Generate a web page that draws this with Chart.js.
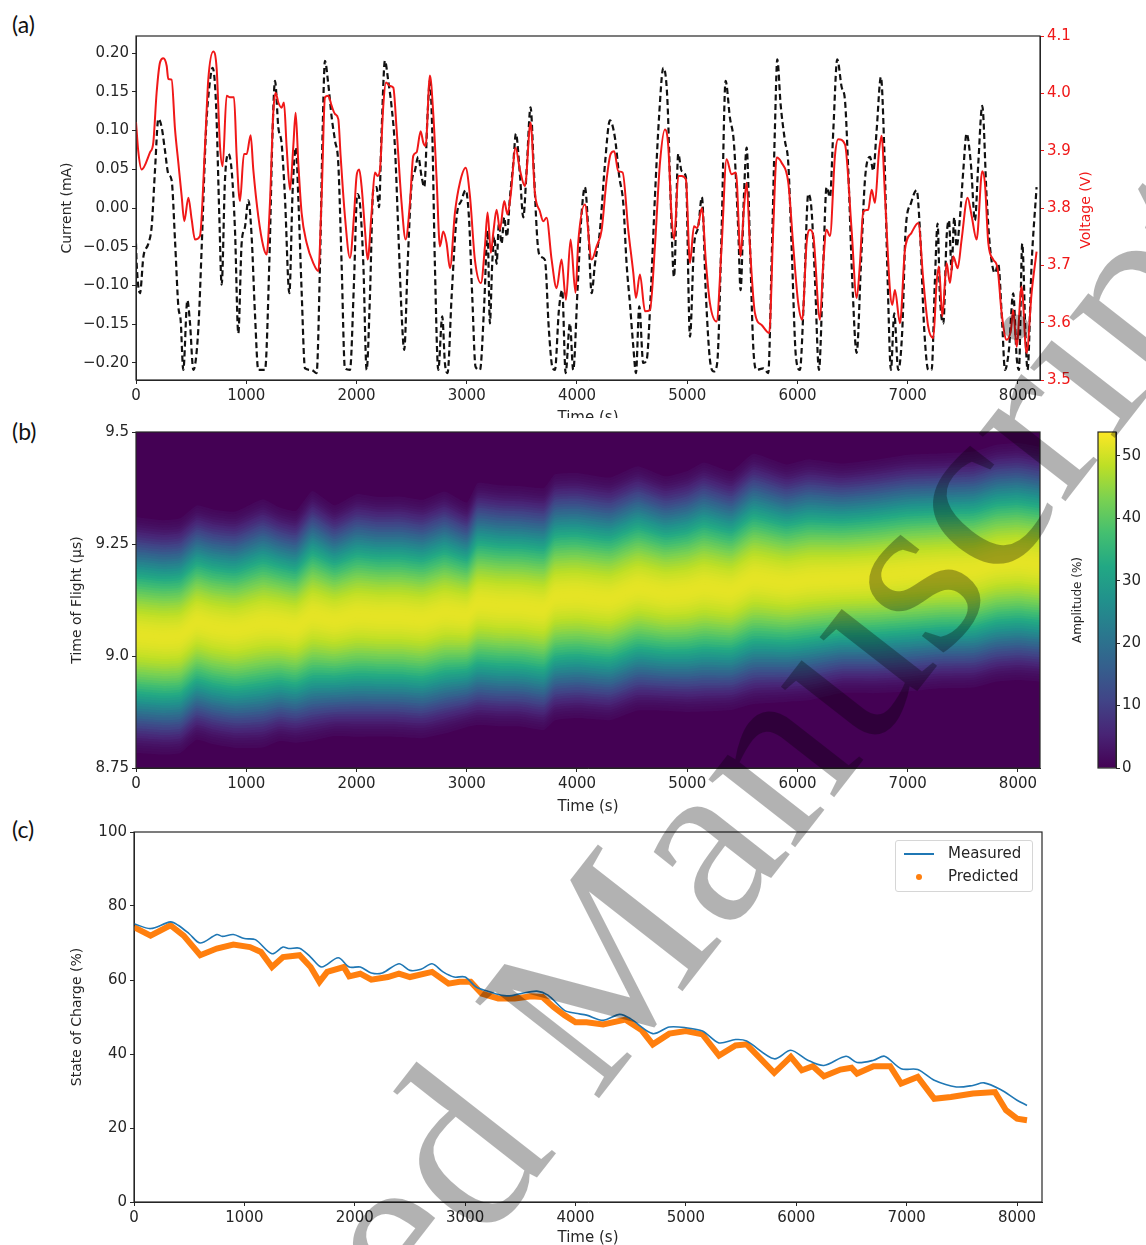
<!DOCTYPE html>
<html>
<head>
<meta charset="utf-8">
<script src="https://cdn.jsdelivr.net/npm/chart.js@4.4.1/dist/chart.umd.min.js"></script>
<style>
  body { margin: 0; background: #fff; }
  #page { position: relative; width: 1146px; height: 1245px; overflow: hidden; background: #fff; }
  .box { position: absolute; overflow: hidden; }
  .panel { position: absolute; left: 12px; font: 23px Lato, "Open Sans", sans-serif; color: #111; }
  .txt { position: absolute; font-family: "DejaVu Sans", sans-serif; }
  #legend { position: absolute; left: 895px; top: 840px; width: 136px; height: 50px; border: 1px solid #d6d6d6;
            border-radius: 3px; background: rgba(255,255,255,0.85); font: 15px "DejaVu Sans", sans-serif; color: #262626; }
  #watermark { position: absolute; font: 240px "Liberation Serif", serif; line-height: 1; white-space: nowrap;
               color: rgba(0,0,0,0.3); pointer-events: none; transform-origin: 0 201px; }
</style>
</head>
<body>
<div id="page">
  <div class="panel" style="top:10px">(a)</div>
  <div class="panel" style="top:417px">(b)</div>
  <div class="panel" style="top:815px">(c)</div>

  <div class="box" style="left:0;top:0;width:1146px;height:418px"><canvas id="chartA" width="1146" height="431"></canvas></div>
  <div class="txt" style="left:985px;top:200px;width:200px;text-align:center;font-size:14px;line-height:20px;color:#f01818;transform:rotate(-90deg)">Voltage (V)</div>

  <div class="box" style="left:0;top:418px;width:1060px;height:402px"><canvas id="chartB" width="1060" height="402"></canvas></div>
  <div class="box" style="left:1060px;top:418px;width:86px;height:402px"><canvas id="chartBar" width="86" height="402"></canvas></div>

  <div class="box" style="left:0;top:820px;width:1146px;height:431px"><canvas id="chartC" width="1146" height="431"></canvas></div>
  <div id="legend">
    <div style="position:absolute;left:8px;top:12px;width:30px;height:2px;background:#1f77b4"></div>
    <div style="position:absolute;left:52px;top:3px">Measured</div>
    <div style="position:absolute;left:20px;top:33px;width:6px;height:6px;border-radius:3px;background:#ff7f0e"></div>
    <div style="position:absolute;left:52px;top:26px">Predicted</div>
  </div>

  <div id="watermark" style="left:0px;top:1664px;transform:rotate(-52deg)">Accepted Manuscript</div>
</div>

<script>
// ── (a) current / voltage profile ─────────────────────────────
const currTime = [0,6,36,67,112,142,172,203,233,263,293,323,354,384,405,429,466,490,520,565,596,635,671,695,726,756,777,807,837,868,898,928,958,989,1019,1049,1079,1109,1170,1209,1239,1261,1291,1321,1351,1391,1421,1451,1472,1502,1533,1593,1638,1669,1693,1714,1744,1775,1805,1835,1865,1895,1941,1977,2007,2031,2062,2092,2122,2152,2182,2204,2228,2258,2288,2319,2349,2379,2409,2433,2464,2500,2530,2560,2591,2615,2645,2666,2687,2711,2742,2778,2802,2826,2863,2908,2953,2990,3020,3050,3080,3120,3159,3189,3210,3231,3250,3271,3292,3316,3340,3364,3392,3422,3446,3482,3513,3543,3579,3609,3643,3673,3709,3745,3776,3800,3836,3866,3897,3936,3966,4005,4042,4072,4103,4133,4163,4208,4254,4299,4344,4384,4420,4450,4480,4511,4535,4565,4601,4632,4668,4707,4746,4783,4819,4849,4880,4919,4949,4988,5025,5061,5100,5133,5170,5206,5242,5272,5312,5348,5387,5424,5463,5484,5514,5539,5569,5599,5629,5690,5735,5765,5795,5817,5847,5886,5917,5947,5986,6022,6059,6098,6128,6159,6195,6234,6264,6295,6325,6361,6401,6431,6461,6497,6537,6576,6612,6658,6688,6718,6757,6787,6818,6848,6878,6914,6951,6981,7029,7081,7111,7150,7187,7217,7247,7271,7292,7323,7353,7374,7398,7422,7443,7474,7504,7534,7573,7610,7640,7676,7716,7746,7791,7821,7857,7882,7918,7957,7988,8009,8039,8069,8087,8124,8169];
const currValue = [-0.046,-0.072,-0.110,-0.063,-0.046,-0.024,0.048,0.115,0.104,0.074,0.044,0.036,-0.042,-0.127,-0.145,-0.209,-0.119,-0.149,-0.209,-0.157,-0.050,0.100,0.164,0.181,0.134,-0.012,-0.099,0.036,0.070,0.048,-0.029,-0.162,-0.046,-0.024,0.010,-0.037,-0.136,-0.209,-0.209,-0.072,0.100,0.164,0.104,0.083,0.014,-0.110,0.023,0.078,0.014,-0.106,-0.207,-0.209,-0.213,-0.072,0.100,0.190,0.160,0.117,0.087,0.057,-0.072,-0.207,-0.209,-0.097,0.018,0.006,-0.072,-0.209,-0.114,0.023,0.027,0.001,0.100,0.190,0.164,0.130,0.078,-0.029,-0.136,-0.183,-0.072,0.031,0.048,0.066,0.040,0.027,0.121,0.164,0.100,-0.072,-0.209,-0.140,-0.200,-0.213,-0.114,-0.012,0.010,0.023,-0.012,-0.114,-0.205,-0.209,-0.123,-0.029,-0.149,-0.072,-0.037,-0.072,-0.020,-0.046,-0.012,-0.037,0.014,0.057,0.096,0.044,-0.012,0.048,0.130,0.048,-0.046,-0.063,-0.067,-0.157,-0.205,-0.209,-0.132,-0.106,-0.213,-0.149,-0.209,-0.106,-0.007,0.027,-0.029,-0.110,-0.072,-0.029,0.057,0.113,0.091,0.040,0.006,-0.072,-0.123,-0.179,-0.213,-0.127,-0.200,-0.196,-0.114,0.014,0.121,0.181,0.143,0.014,-0.089,0.070,0.048,0.040,-0.166,-0.050,-0.024,0.014,-0.114,-0.196,-0.211,-0.200,-0.029,0.164,0.117,0.083,-0.029,-0.106,0.014,0.078,-0.046,-0.179,-0.209,-0.207,-0.213,-0.072,0.100,0.192,0.134,0.087,0.057,-0.050,-0.192,-0.209,-0.114,0.018,-0.003,-0.093,-0.209,-0.072,0.027,0.014,0.100,0.192,0.156,0.139,0.048,-0.093,-0.187,-0.072,0.036,0.066,0.048,0.100,0.169,0.078,-0.093,-0.209,-0.136,-0.209,-0.157,-0.029,0.006,0.023,-0.029,-0.157,-0.209,-0.209,-0.093,-0.020,-0.114,-0.149,-0.037,-0.016,-0.080,-0.012,-0.050,-0.012,0.048,0.096,0.057,-0.016,0.057,0.132,0.014,-0.050,-0.084,-0.072,-0.149,-0.209,-0.183,-0.110,-0.192,-0.209,-0.046,-0.166,-0.209,-0.072,0.027];
const voltTime = [0,20,51,127,157,187,218,248,278,293,323,354,384,414,438,475,505,535,580,626,656,701,732,762,786,822,852,889,913,943,979,1004,1040,1064,1109,1155,1185,1215,1245,1267,1291,1321,1342,1366,1397,1427,1448,1472,1502,1548,1608,1654,1684,1714,1744,1775,1805,1835,1856,1895,1941,1977,2001,2025,2046,2077,2101,2137,2167,2192,2213,2243,2267,2303,2334,2364,2409,2446,2485,2515,2545,2582,2606,2627,2666,2696,2727,2757,2787,2817,2848,2893,2938,2990,3029,3074,3129,3165,3189,3219,3241,3271,3301,3340,3370,3401,3443,3482,3528,3579,3618,3664,3694,3724,3770,3815,3860,3900,3942,3987,4011,4072,4133,4178,4224,4269,4305,4338,4375,4414,4465,4511,4535,4571,4617,4662,4707,4753,4798,4828,4858,4882,4919,4949,4988,5025,5061,5091,5133,5170,5206,5266,5312,5357,5402,5442,5484,5514,5539,5569,5614,5675,5744,5780,5811,5856,5917,5962,6007,6043,6083,6113,6144,6204,6234,6264,6295,6340,6370,6431,6491,6537,6567,6597,6642,6673,6703,6739,6763,6794,6839,6860,6884,6930,6975,7035,7096,7141,7186,7232,7262,7283,7314,7353,7383,7413,7453,7489,7543,7580,7625,7676,7700,7731,7776,7815,7852,7897,7936,7957,7988,8033,8078,8124,8169];
const voltValue = [3.950,3.900,3.867,3.897,3.914,4.001,4.054,4.061,4.048,4.025,4.024,3.937,3.879,3.821,3.777,3.818,3.780,3.745,3.751,3.908,4.025,4.073,4.042,3.908,3.873,3.996,3.993,3.993,3.891,3.812,3.894,3.894,3.927,3.867,3.786,3.733,3.719,3.809,3.966,4.001,3.984,3.975,3.984,3.908,3.832,3.908,3.966,3.879,3.792,3.739,3.704,3.690,3.821,3.993,3.996,3.978,3.964,3.955,3.891,3.786,3.713,3.786,3.856,3.867,3.838,3.762,3.710,3.792,3.862,3.856,3.867,3.978,4.019,4.013,4.010,3.937,3.809,3.745,3.809,3.891,3.897,3.934,3.914,3.908,4.031,3.966,3.850,3.733,3.759,3.739,3.695,3.792,3.844,3.870,3.821,3.710,3.669,3.733,3.792,3.722,3.757,3.797,3.762,3.812,3.789,3.827,3.905,3.867,3.838,3.949,3.827,3.794,3.777,3.783,3.710,3.660,3.710,3.640,3.745,3.652,3.739,3.806,3.710,3.733,3.762,3.850,3.894,3.899,3.864,3.862,3.762,3.687,3.643,3.684,3.620,3.622,3.733,3.879,3.937,3.908,3.786,3.745,3.856,3.856,3.850,3.704,3.768,3.765,3.800,3.704,3.634,3.602,3.733,3.885,3.859,3.862,3.716,3.798,3.844,3.733,3.617,3.596,3.582,3.762,3.888,3.879,3.844,3.733,3.634,3.605,3.739,3.762,3.751,3.605,3.704,3.762,3.751,3.891,3.920,3.911,3.762,3.643,3.704,3.794,3.797,3.832,3.809,3.897,3.926,3.821,3.657,3.631,3.657,3.599,3.727,3.757,3.774,3.675,3.593,3.573,3.669,3.698,3.611,3.704,3.669,3.716,3.695,3.745,3.818,3.786,3.745,3.864,3.844,3.739,3.710,3.695,3.617,3.570,3.587,3.622,3.558,3.663,3.547,3.652,3.724];
const timeTicks = [0, 1000, 2000, 3000, 4000, 5000, 6000, 7000, 8000];
const currTicks = [-0.20, -0.15, -0.10, -0.05, 0, 0.05, 0.10, 0.15, 0.20];
const voltTicks = [3.5, 3.6, 3.7, 3.8, 3.9, 4.0, 4.1];

// ── (b) time-of-flight band, edges of the visible signal ──────
const tofTime  = [0,250,400,550,700,900,1150,1300,1450,1600,1800,2000,2200,2400,2600,2800,3000,3100,3300,3500,3700,3800,4000,4300,4550,4800,5000,5150,5400,5600,5900,6100,6400,6700,7000,7300,7600,7800,8000,8200];
const tofUpper = [9.278,9.271,9.275,9.304,9.295,9.290,9.316,9.300,9.292,9.334,9.305,9.328,9.322,9.323,9.316,9.334,9.312,9.353,9.348,9.346,9.342,9.372,9.375,9.365,9.390,9.369,9.380,9.398,9.380,9.417,9.395,9.406,9.398,9.406,9.417,9.420,9.424,9.439,9.443,9.435];
const tofLower = [8.816,8.812,8.815,8.845,8.835,8.827,8.830,8.842,8.838,8.845,8.853,8.853,8.853,8.852,8.849,8.860,8.872,8.879,8.876,8.875,8.868,8.890,8.895,8.890,8.912,8.910,8.908,8.910,8.912,8.927,8.930,8.934,8.949,8.949,8.953,8.960,8.962,8.975,8.979,8.975];
const tofTicks = [8.75, 9.0, 9.25, 9.5];
const tofTickLabels = ["8.75", "9.0", "9.25", "9.5"];
const ampTicks = [0, 10, 20, 30, 40, 50];
const ampMax = 53.8;
const ampPeak = 51.8;

// ── (c) state of charge ───────────────────────────────────────
const measTime = [0,150,330,400,500,600,750,800,900,1000,1100,1250,1350,1400,1500,1600,1700,1850,1950,2050,2150,2250,2400,2500,2600,2700,2800,2900,3000,3100,3200,3300,3400,3500,3650,3750,3900,4000,4100,4250,4400,4500,4700,4850,5000,5150,5300,5450,5550,5800,5950,6100,6250,6450,6550,6700,6800,6950,7100,7250,7450,7600,7700,7850,8000,8090];
const measSoc  = [75.2,73.9,75.7,74.8,72.5,70.0,72.3,71.8,72.3,71.2,70.9,67.1,68.9,68.5,68.6,66.2,63.5,66.0,63.5,63.5,61.9,61.9,64.4,62.6,62.9,64.4,62.2,60.8,60.8,58.1,57.0,56.1,55.7,56.3,57.0,55.9,51.8,51.0,50.5,49.1,50.7,49.5,45.5,47.3,47.1,46.2,43.0,43.9,43.5,38.7,41.0,38.4,36.9,39.4,37.7,38.3,39.4,36.0,35.8,32.9,31.1,31.5,32.2,30.4,27.5,26.1];
const predTime = [0,150,330,450,600,750,900,1050,1150,1250,1350,1500,1600,1680,1750,1900,1950,2050,2150,2300,2400,2500,2700,2850,2950,3050,3150,3300,3450,3600,3700,3800,3900,4000,4100,4250,4450,4600,4700,4850,5000,5150,5300,5450,5550,5800,5950,6050,6150,6250,6400,6500,6550,6700,6850,6950,7100,7250,7400,7600,7800,7900,8000,8090];
const predSoc  = [74.3,72.0,74.8,72.0,66.7,68.5,69.6,68.9,67.6,63.5,66.2,66.7,63.5,59.5,62.2,63.5,61.0,61.7,60.1,60.8,61.7,60.8,62.2,59.0,59.5,59.5,56.3,55.0,55.0,55.6,55.4,52.7,50.5,48.6,48.6,48.0,49.3,46.4,42.6,45.5,46.2,45.3,39.6,42.3,42.6,34.9,39.2,35.6,36.7,34.0,35.8,36.3,34.7,36.7,36.7,32.0,33.8,27.9,28.4,29.3,29.7,24.8,22.5,22.1];
const socTicks = [0, 20, 40, 60, 80, 100];

// ── shared styling ────────────────────────────────────────────
const INK = "#262626";
const RED = "#f01818";
const TICK_FONT  = { family: "'DejaVu Sans', sans-serif", size: 15 };
const TITLE_FONT = { family: "'DejaVu Sans', sans-serif", size: 14 };
const VIRIDIS = ["#440154","#482475","#414487","#355f8d","#2a788e","#21918c","#22a884","#44bf70","#7ad151","#bddf26","#fde725"];

const pts = (xs, ys) => xs.map((x, i) => ({ x, y: ys[i] }));
const fixedTicks = (values) => (axis) => { axis.ticks = values.map((v) => ({ value: v })); };

function viridis(t) {
  t = Math.max(0, Math.min(1, t));
  const p = t * (VIRIDIS.length - 1);
  const i = Math.min(Math.floor(p), VIRIDIS.length - 2);
  const f = p - i;
  const a = VIRIDIS[i], b = VIRIDIS[i + 1];
  const ch = (h, k) => parseInt(h.substr(1 + 2 * k, 2), 16);
  const c = [0, 1, 2].map((k) => Math.round(ch(a, k) + (ch(b, k) - ch(a, k)) * f));
  return `rgb(${c[0]},${c[1]},${c[2]})`;
}

// full box round the plot, like matplotlib spines
const frame = {
  id: "frame",
  afterDraw(chart) {
    const { ctx, chartArea: a } = chart;
    ctx.save();
    ctx.strokeStyle = INK;
    ctx.lineWidth = 1.2;
    ctx.strokeRect(a.left, a.top, a.right - a.left, a.bottom - a.top);
    ctx.restore();
  },
};

function timeAxis(max, height) {
  return {
    type: "linear", min: 0, max,
    afterBuildTicks: fixedTicks(timeTicks),
    afterFit: (s) => { s.height = height; },
    ticks: { color: INK, font: TICK_FONT, maxRotation: 0, autoSkip: false, padding: 3, callback: (v) => String(v) },
    grid: { drawOnChartArea: false, color: INK, tickLength: 4 },
    border: { color: INK },
    title: { display: true, text: "Time (s)", color: INK, font: TICK_FONT, padding: { top: 0, bottom: 4 } },
  };
}

function leftAxis(min, max, ticks, title, titleX, fmt, width = 136) {
  return {
    type: "linear", position: "left", min, max,
    afterBuildTicks: fixedTicks(ticks),
    afterFit: (s) => { s.width = width; },
    ticks: { color: INK, font: TICK_FONT, padding: 3, callback: fmt },
    grid: { drawOnChartArea: false, color: INK, tickLength: 4 },
    border: { color: INK },
    title: { display: true, text: title, color: INK, font: TITLE_FONT, padding: { top: titleX - 8.4, bottom: 0 } },
  };
}

const base = {
  responsive: false,
  animation: false,
  events: [],
  plugins: { legend: { display: false }, tooltip: { enabled: false } },
};

// ── (a) ───────────────────────────────────────────────────────
new Chart(document.getElementById("chartA"), {
  type: "line",
  data: {
    datasets: [
      {
        label: "Voltage (V)",
        data: pts(voltTime, voltValue),
        yAxisID: "yV",
        borderColor: RED,
        borderWidth: 2,
        pointRadius: 0,
        cubicInterpolationMode: "monotone",
        order: 0,
      },
      {
        label: "Current (mA)",
        data: pts(currTime, currValue),
        yAxisID: "yI",
        borderColor: "#111",
        borderWidth: 2.2,
        borderDash: [6, 3.5],
        pointRadius: 0,
        cubicInterpolationMode: "monotone",
        order: 1,
      },
    ],
  },
  options: {
    ...base,
    layout: { padding: { top: 36, left: 0, right: 0, bottom: 0 } },
    scales: {
      x: timeAxis(8200, 51),
      yI: leftAxis(-0.222, 0.222, currTicks, "Current (mA)", 67,
        (v) => (v < 0 ? "\u2212" : "") + Math.abs(v).toFixed(2)),
      yV: {
        type: "linear", position: "right", min: 3.5, max: 4.1,
        afterBuildTicks: fixedTicks(voltTicks),
        afterFit: (s) => { s.width = 106; },
        ticks: { color: RED, font: TICK_FONT, padding: 3, callback: (v) => v.toFixed(1) },
        grid: { drawOnChartArea: false, color: RED, tickLength: 4 },
        border: { color: INK },
      },
    },
  },
  plugins: [frame],
});

// ── (b) heat band: nested fills from the band edges inward ───
const heatBg = {
  id: "heatBg",
  beforeDatasetsDraw(chart) {
    const { ctx, chartArea: a } = chart;
    ctx.save();
    ctx.fillStyle = VIRIDIS[0];
    ctx.fillRect(a.left, a.top, a.right - a.left, a.bottom - a.top);
    ctx.restore();
  },
};

const LAYERS = 48;
const heatSets = [];
for (let k = 0; k < LAYERS; k++) {
  const f = 0.02 + (1.14 - 0.02) * k / (LAYERS - 1);   // k = 0 is the core
  const amp = ampPeak * Math.exp(-(1.3 * f * f + Math.pow(f, 6)));
  const color = viridis(amp / ampMax);
  const edge = (sign) => tofTime.map((t, i) => {
    const mid = (tofUpper[i] + tofLower[i]) / 2;
    const half = (tofUpper[i] - tofLower[i]) / 2;
    return { x: t, y: mid + sign * f * half };
  });
  heatSets.push({ data: edge(-1), borderWidth: 0, borderColor: "transparent", pointRadius: 0, fill: false, tension: 0.15 });
  heatSets.push({ data: edge(1), borderWidth: 0, borderColor: "transparent", pointRadius: 0, fill: "-1",
                  backgroundColor: color, tension: 0.15 });
}

new Chart(document.getElementById("chartB"), {
  type: "line",
  data: { datasets: heatSets },
  options: {
    ...base,
    layout: { padding: { top: 14, left: 0, right: 20, bottom: 0 } },
    scales: {
      x: timeAxis(8200, 52),
      y: leftAxis(8.75, 9.5, tofTicks, "Time of Flight (\u00b5s)", 77,
        (v) => tofTickLabels[tofTicks.indexOf(v)]),
    },
  },
  plugins: [heatBg, frame],
});

// colour bar
new Chart(document.getElementById("chartBar"), {
  type: "bar",
  data: {
    labels: ["amp"],
    datasets: [{
      data: [[0, ampMax]],
      yAxisID: "y",
      categoryPercentage: 1,
      barPercentage: 1,
      backgroundColor: (ctx) => {
        const a = ctx.chart.chartArea;
        if (!a) return VIRIDIS[0];
        const g = ctx.chart.ctx.createLinearGradient(0, a.bottom, 0, a.top);
        VIRIDIS.forEach((c, i) => g.addColorStop(i / (VIRIDIS.length - 1), c));
        return g;
      },
    }],
  },
  options: {
    ...base,
    layout: { padding: { top: 14, left: 0, right: 0, bottom: 52 } },
    scales: {
      x: { display: false },
      y: {
        type: "linear", position: "right", min: 0, max: ampMax,
        afterBuildTicks: fixedTicks(ampTicks),
        afterFit: (s) => { s.width = 30; },
        ticks: { color: INK, font: TICK_FONT, padding: 2 },
        grid: { drawOnChartArea: false, color: INK, tickLength: 4 },
        border: { color: INK },
      },
      yL: {
        type: "linear", position: "left", min: 0, max: 1,
        afterFit: (s) => { s.width = 38; },
        ticks: { display: false },
        grid: { display: false },
        border: { display: false },
        title: { display: true, text: "Amplitude (%)", color: INK,
                 font: { family: "'DejaVu Sans', sans-serif", size: 12 }, padding: { top: 11, bottom: 0 } },
      },
    },
  },
  plugins: [frame],
});

// ── (c) ───────────────────────────────────────────────────────
new Chart(document.getElementById("chartC"), {
  type: "line",
  data: {
    datasets: [
      {
        label: "Measured",
        data: pts(measTime, measSoc),
        borderColor: "#1f77b4",
        borderWidth: 1.6,
        pointRadius: 0,
        tension: 0.3,
        order: 0,
      },
      {
        label: "Predicted",
        data: pts(predTime, predSoc),
        borderColor: "#ff7f0e",
        backgroundColor: "#ff7f0e",
        borderWidth: 6,
        pointRadius: 0,
        tension: 0,
        order: 1,
      },
    ],
  },
  options: {
    ...base,
    layout: { padding: { top: 12, left: 0, right: 104, bottom: 0 } },
    scales: {
      x: timeAxis(8226, 49),
      y: leftAxis(0, 100, socTicks, "State of Charge (%)", 77, (v) => String(v), 134),
    },
  },
  plugins: [frame],
});
</script>
</body>
</html>
